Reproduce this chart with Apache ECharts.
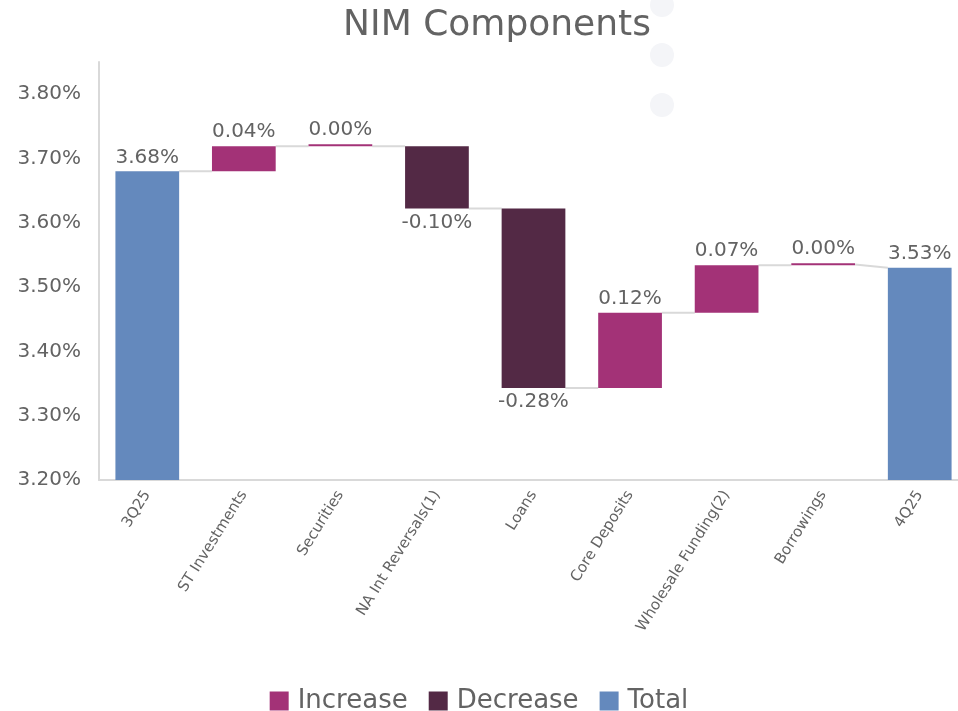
<!DOCTYPE html>
<html>
<head>
<meta charset="utf-8">
<title>NIM Components</title>
<script src="https://cdn.jsdelivr.net/npm/echarts@6/dist/echarts.min.js"></script>
<style>
  html, body { margin: 0; padding: 0; background: #fff; }
  #chart { width: 958px; height: 711px; }
</style>
</head>
<body>
<div id="chart"></div>
<script>
// NIM waterfall: start total, component deltas, end total
var categories = ["3Q25", "ST Investments", "Securities", "NA Int Reversals(1)", "Loans",
  "Core Deposits", "Wholesale Funding(2)", "Borrowings", "4Q25"];
var startTotal = 3.68;
var deltas = [0.039, 0.00, -0.097, -0.279, 0.117, 0.074, 0.001];
var endTotal = 3.53;
var yTicks = { min: 3.2, max: 3.85, step: 0.1 };

(function () {
  "use strict";

  var TXT = "#636363";
  var FONT = "'DejaVu Sans', sans-serif";
  var C_INC = "#a33277", C_DEC = "#532945", C_TOT = "#6489bd";

  // ---------------- build stacked pieces ----------------
  var n = categories.length;
  var base = [], inc = [], dec = [], tot = [], levels = [];
  var run = startTotal;
  base.push(0); inc.push("-"); dec.push("-"); tot.push(startTotal); levels.push(startTotal);
  deltas.forEach(function (d) {
    var next = run + d;
    base.push(Math.min(run, next));
    if (d >= 0) { inc.push(d); dec.push("-"); }
    else { inc.push("-"); dec.push(-d); }
    tot.push("-");
    run = next;
    levels.push(run);
  });
  base.push(0); inc.push("-"); dec.push("-"); tot.push(endTotal); levels.push(endTotal);

  // connector segments: [index, level leaving bar i, level entering bar i+1]
  var links = [];
  for (var i = 0; i < n - 1; i++) {
    links.push([i, levels[i], i + 1 === n - 1 ? endTotal : levels[i]]);
  }

  function pct(v) { return Number(v).toFixed(2) + "%"; }
  var lbl = { show: true, color: TXT, fontSize: 20, fontFamily: FONT, distance: 4 };

  var chart = echarts.init(document.getElementById("chart"), null, { renderer: "canvas" });
  chart.setOption({
    backgroundColor: "#fff",
    animation: false,
    title: {
      text: "NIM Components", left: 492, top: 3, textAlign: "center",
      textStyle: { color: TXT, fontSize: 36, fontWeight: "normal", fontFamily: FONT },
    },
    graphic: [0, 1, 2].map(function (k) {
      return { type: "circle", shape: { cx: 662, cy: 5 + k * 50, r: 12 },
        style: { fill: "#f4f5f8" }, silent: true, z: -1 };
    }),
    legend: {
      data: ["Increase", "Decrease", "Total"], top: 683, left: "center",
      icon: "rect", itemWidth: 19, itemHeight: 19, itemGap: 21,
      textStyle: { color: TXT, fontSize: 26, fontFamily: FONT, padding: [0, 0, 0, 4] },
    },
    grid: { left: 99, top: 62, right: -10, bottom: 231, outerBoundsMode: "none", containLabel: false },
    xAxis: {
      type: "category", data: categories,
      axisLine: { lineStyle: { color: "#d9d9d9", width: 2 } },
      axisTick: { show: false },
      axisLabel: { color: TXT, fontSize: 15, fontFamily: FONT, rotate: 58, margin: 12, interval: 0 },
    },
    yAxis: {
      type: "value", min: yTicks.min, max: yTicks.max, interval: yTicks.step,
      axisLine: { show: true, lineStyle: { color: "#d9d9d9", width: 2 } },
      axisTick: { show: false },
      splitLine: { show: false },
      axisLabel: { color: TXT, fontSize: 20, fontFamily: FONT, margin: 18, showMaxLabel: false,
        formatter: function (v) { return pct(v); } },
    },
    series: [
      { name: "base", type: "bar", stack: "w", data: base, barWidth: "66%",
        itemStyle: { color: "transparent" }, silent: true },
      { name: "Increase", type: "bar", stack: "w", data: inc, barMinHeight: 2,
        itemStyle: { color: C_INC },
        label: Object.assign({}, lbl, { position: "top", formatter: function (p) { return pct(p.value); } }) },
      { name: "Decrease", type: "bar", stack: "w", data: dec,
        itemStyle: { color: C_DEC },
        label: Object.assign({}, lbl, { position: "bottom", formatter: function (p) { return "-" + pct(p.value); } }) },
      { name: "Total", type: "bar", stack: "w", data: tot,
        itemStyle: { color: C_TOT },
        label: Object.assign({}, lbl, { position: "top", formatter: function (p) { return pct(p.value); } }) },
      { name: "links", type: "custom", data: links, silent: true, z: 1,
        renderItem: function (params, api) {
          var idx = api.value(0);
          var a = api.coord([idx, api.value(1)]);
          var b = api.coord([idx + 1, api.value(2)]);
          var bw = api.size([1, 0])[0] * 0.66;
          return { type: "line",
            shape: { x1: a[0] + bw / 2, y1: a[1], x2: b[0] - bw / 2, y2: b[1] },
            style: { stroke: "#d9d9d9", lineWidth: 2 } };
        } },
    ],
  });
})();
</script>
</body>
</html>
